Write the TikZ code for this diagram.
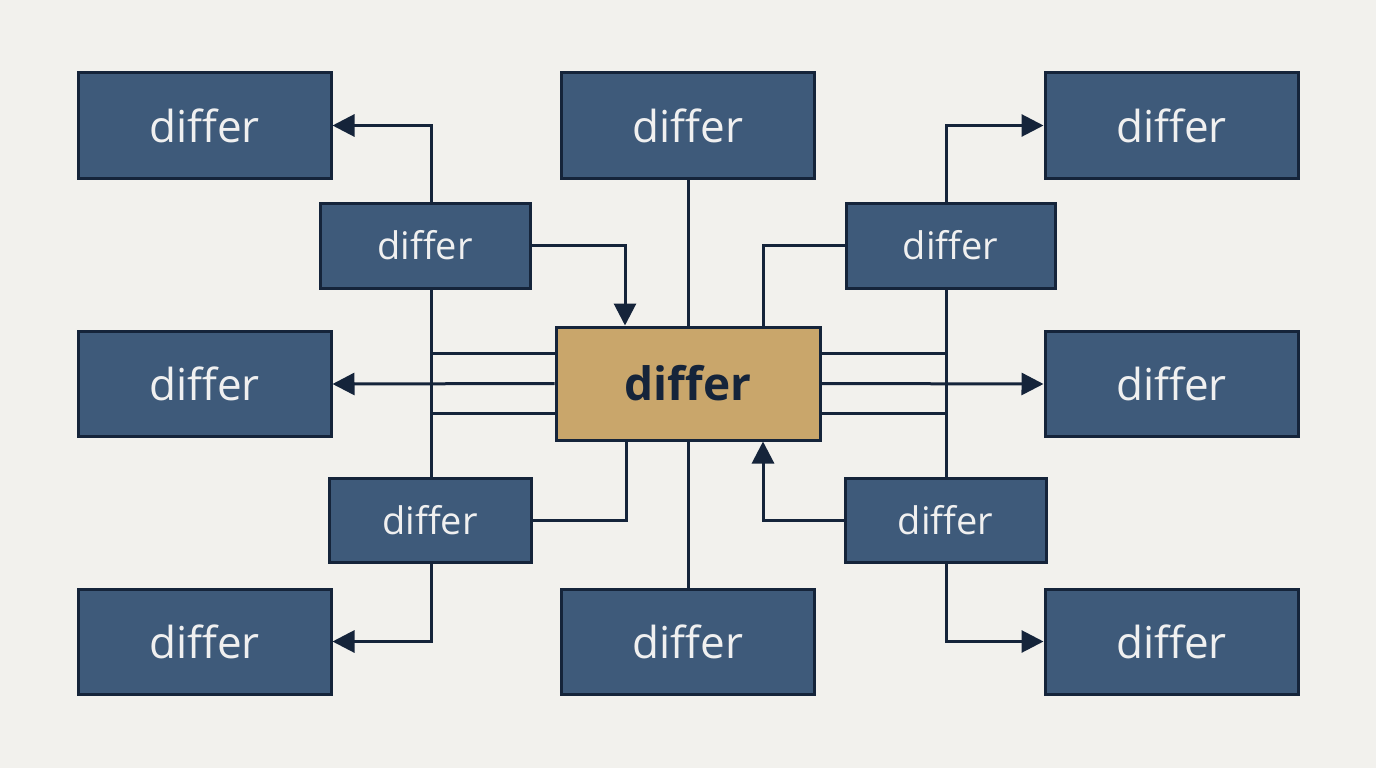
\documentclass[tikz,border=0pt]{standalone}
\usepackage{fontspec}
\setmainfont{Open Sans}
\usetikzlibrary{arrows.meta}
\definecolor{bg}{HTML}{F2F1ED}
\definecolor{boxf}{HTML}{3E5A7A}
\definecolor{edge}{HTML}{15243A}
\definecolor{tan}{HTML}{C9A66B}
\begin{document}
\begin{tikzpicture}[x=1pt,y=-1pt,
  box/.style={draw=edge,line width=3pt,fill=boxf,text=white!94!black,font=\fontsize{44}{48}\selectfont,minimum width=253pt,minimum height=105pt,inner sep=0pt},
  ibox/.style={box,font=\fontsize{38}{42}\selectfont,minimum height=85pt},
  ln/.style={draw=edge,line width=3pt},
  arr/.style={ln,-{Triangle[length=22pt,width=22pt]}}]
\fill[bg] (0,0) rectangle (1376,768);
\useasboundingbox (0,0) rectangle (1376,768);
\node[box] (tl) at (204.5,125.5) {differ};
\node[box] (ml) at (204.5,384) {differ};
\node[box] (bl) at (204.5,641.5) {differ};
\node[box] (tr) at (1171.5,125.5) {differ};
\node[box] (mr) at (1171.5,384) {differ};
\node[box] (br) at (1171.5,641.5) {differ};
\node[box] (tc) at (688,125.5) {differ};
\node[box] (bc) at (688,641.5) {differ};
\node[box,fill=tan,text=edge,font=\fontsize{46}{50}\selectfont\bfseries,minimum width=264pt,minimum height=113pt] (c) at (688,383.5) {differ};
\node[ibox,minimum width=210pt] (ul) at (425,245.5) {differ};
\node[ibox,minimum width=209pt] (ur) at (950.5,245.5) {differ};
\node[ibox,minimum width=202pt,minimum height=84pt] (ll) at (430,520) {differ};
\node[ibox,minimum width=201pt,minimum height=84pt] (lr) at (945.5,520) {differ};
% upper left
\draw[arr] ([xshift=6pt]ul.north) |- (tl.east);
\draw[arr] (ul.east) -| ([xshift=-63pt]c.north);
\draw[ln] ([xshift=6pt]ul.south) |- ([yshift=-30pt]c.west);
% top / bottom center
\draw[ln] (tc.south) -- (c.north);
\draw[ln] (bc.north) -- (c.south);
% upper right
\draw[ln] (ur.west) -| ([xshift=75pt]c.north);
\draw[arr] ([xshift=-4.5pt]ur.north) |- (tr.west);
\draw[ln] ([xshift=-4.5pt]ur.south) |- ([yshift=-30pt]c.east);
% middle
\draw[arr] (c.west) -- (ml.east);
\draw[arr] (c.east) -- (mr.west);
% lower left
\draw[ln] ([yshift=30pt]c.west) -| ([xshift=1pt]ll.north);
\draw[ln] (ll.east) -| ([xshift=-62pt]c.south);
\draw[arr] ([xshift=1pt]ll.south) |- (bl.east);
% lower right
\draw[arr] (lr.west) -| ([xshift=75pt]c.south);
\draw[ln] ([yshift=30pt]c.east) -| ([xshift=0.5pt]lr.north);
\draw[arr] ([xshift=0.5pt]lr.south) |- (br.west);
\end{tikzpicture}
\end{document}
